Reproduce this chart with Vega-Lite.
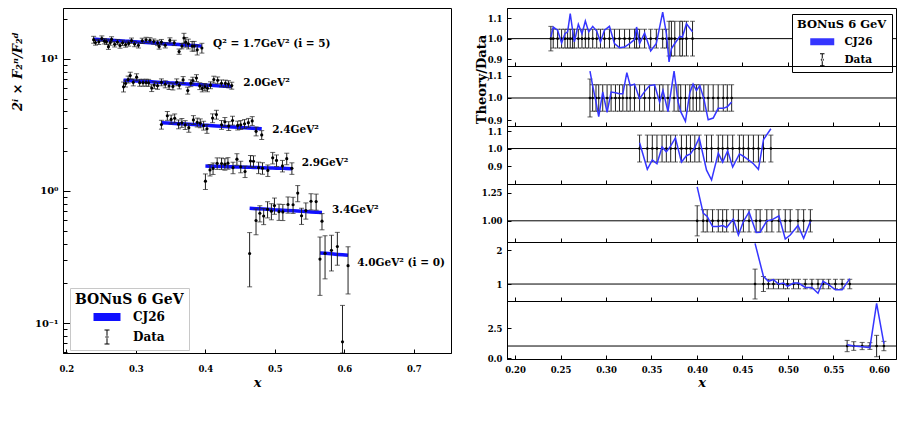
{
  "$schema": "https://vega.github.io/schema/vega-lite/v6.json",
  "padding": {"left": 10, "top": 7, "right": 5, "bottom": 5},
  "bounds": "flush",
  "spacing": 56,
  "config": {
    "font": "DejaVu Serif",
    "view": {"stroke": "#000", "strokeWidth": 1},
    "axis": {
      "labelFont": "DejaVu Serif", "labelFontWeight": "bold", "labelFontSize": 8.5, "labelColor": "#000",
      "labelOverlap": false,
      "tickColor": "#000", "domainColor": "#000", "grid": false,
      "titleFont": "DejaVu Serif", "titleFontWeight": "bold", "titleColor": "#000", "titleFontSize": 13
    },
    "legend": {
      "titleFont": "DejaVu Serif", "labelFont": "DejaVu Serif", "titleFontWeight": "bold",
      "labelFontWeight": "bold", "titleColor": "#000", "labelColor": "#000"
    }
  },
  "datasets": {
    "g": [
      {"q":"1.7","x":0.2394,"f2":13.99,"err":0.84,"cj26":14.11},
      {"q":"1.7","x":0.2420,"f2":13.32,"err":0.61,"cj26":14.08},
      {"q":"1.7","x":0.2468,"f2":13.48,"err":0.62,"cj26":14.03},
      {"q":"1.7","x":0.2512,"f2":14.28,"err":0.66,"cj26":13.98},
      {"q":"1.7","x":0.2549,"f2":13.62,"err":0.63,"cj26":13.95},
      {"q":"1.7","x":0.2578,"f2":13.47,"err":0.62,"cj26":13.92},
      {"q":"1.7","x":0.2607,"f2":12.38,"err":0.57,"cj26":13.89},
      {"q":"1.7","x":0.2633,"f2":13.31,"err":0.61,"cj26":13.86},
      {"q":"1.7","x":0.2652,"f2":14.07,"err":0.65,"cj26":13.84},
      {"q":"1.7","x":0.2696,"f2":12.90,"err":0.59,"cj26":13.80},
      {"q":"1.7","x":0.2736,"f2":13.43,"err":0.62,"cj26":13.75},
      {"q":"1.7","x":0.2773,"f2":12.63,"err":0.58,"cj26":13.72},
      {"q":"1.7","x":0.2810,"f2":13.24,"err":0.61,"cj26":13.68},
      {"q":"1.7","x":0.2854,"f2":12.86,"err":0.59,"cj26":13.63},
      {"q":"1.7","x":0.2898,"f2":13.10,"err":0.60,"cj26":13.59},
      {"q":"1.7","x":0.2939,"f2":13.76,"err":0.63,"cj26":13.54},
      {"q":"1.7","x":0.2983,"f2":12.97,"err":0.60,"cj26":13.50},
      {"q":"1.7","x":0.3038,"f2":12.68,"err":0.58,"cj26":13.44},
      {"q":"1.7","x":0.3093,"f2":13.72,"err":0.63,"cj26":13.39},
      {"q":"1.7","x":0.3148,"f2":13.94,"err":0.64,"cj26":13.33},
      {"q":"1.7","x":0.3204,"f2":13.84,"err":0.64,"cj26":13.27},
      {"q":"1.7","x":0.3259,"f2":13.54,"err":0.62,"cj26":13.22},
      {"q":"1.7","x":0.3314,"f2":13.23,"err":0.61,"cj26":13.16},
      {"q":"1.7","x":0.3336,"f2":12.43,"err":0.57,"cj26":13.14},
      {"q":"1.7","x":0.3369,"f2":13.42,"err":0.62,"cj26":13.10},
      {"q":"1.7","x":0.3424,"f2":12.69,"err":0.58,"cj26":13.05},
      {"q":"1.7","x":0.3491,"f2":13.81,"err":0.64,"cj26":12.98},
      {"q":"1.7","x":0.3553,"f2":13.23,"err":0.61,"cj26":12.91},
      {"q":"1.7","x":0.3623,"f2":11.36,"err":0.52,"cj26":12.84},
      {"q":"1.7","x":0.3664,"f2":12.50,"err":0.58,"cj26":12.80},
      {"q":"1.7","x":0.3693,"f2":14.41,"err":1.22,"cj26":12.77},
      {"q":"1.7","x":0.3719,"f2":13.40,"err":1.14,"cj26":12.74},
      {"q":"1.7","x":0.3756,"f2":13.01,"err":1.11,"cj26":12.70},
      {"q":"1.7","x":0.3811,"f2":12.50,"err":1.06,"cj26":12.64},
      {"q":"1.7","x":0.3840,"f2":12.51,"err":1.06,"cj26":12.61},
      {"q":"1.7","x":0.3884,"f2":11.71,"err":1.00,"cj26":12.57},
      {"q":"1.7","x":0.3951,"f2":12.10,"err":1.03,"cj26":12.50},
      {"q":"2.0","x":0.2824,"f2":6.15,"err":0.53,"cj26":6.90},
      {"q":"2.0","x":0.2853,"f2":6.52,"err":0.39,"cj26":6.89},
      {"q":"2.0","x":0.2890,"f2":6.99,"err":0.42,"cj26":6.87},
      {"q":"2.0","x":0.2920,"f2":7.48,"err":0.45,"cj26":6.86},
      {"q":"2.0","x":0.2964,"f2":6.65,"err":0.40,"cj26":6.83},
      {"q":"2.0","x":0.3012,"f2":7.28,"err":0.44,"cj26":6.81},
      {"q":"2.0","x":0.3056,"f2":6.61,"err":0.40,"cj26":6.79},
      {"q":"2.0","x":0.3104,"f2":6.61,"err":0.40,"cj26":6.77},
      {"q":"2.0","x":0.3148,"f2":6.62,"err":0.40,"cj26":6.75},
      {"q":"2.0","x":0.3185,"f2":6.60,"err":0.40,"cj26":6.73},
      {"q":"2.0","x":0.3229,"f2":6.02,"err":0.36,"cj26":6.71},
      {"q":"2.0","x":0.3266,"f2":6.34,"err":0.38,"cj26":6.69},
      {"q":"2.0","x":0.3313,"f2":6.27,"err":0.38,"cj26":6.67},
      {"q":"2.0","x":0.3369,"f2":6.66,"err":0.40,"cj26":6.64},
      {"q":"2.0","x":0.3424,"f2":6.43,"err":0.39,"cj26":6.62},
      {"q":"2.0","x":0.3479,"f2":6.24,"err":0.37,"cj26":6.59},
      {"q":"2.0","x":0.3534,"f2":6.19,"err":0.37,"cj26":6.57},
      {"q":"2.0","x":0.3589,"f2":6.66,"err":0.40,"cj26":6.54},
      {"q":"2.0","x":0.3626,"f2":6.31,"err":0.38,"cj26":6.52},
      {"q":"2.0","x":0.3681,"f2":6.93,"err":0.42,"cj26":6.50},
      {"q":"2.0","x":0.3748,"f2":5.76,"err":0.35,"cj26":6.47},
      {"q":"2.0","x":0.3792,"f2":6.56,"err":0.39,"cj26":6.44},
      {"q":"2.0","x":0.3821,"f2":6.86,"err":0.41,"cj26":6.43},
      {"q":"2.0","x":0.3873,"f2":7.17,"err":0.43,"cj26":6.41},
      {"q":"2.0","x":0.3921,"f2":6.23,"err":0.37,"cj26":6.38},
      {"q":"2.0","x":0.3957,"f2":5.99,"err":0.36,"cj26":6.37},
      {"q":"2.0","x":0.3994,"f2":6.14,"err":0.37,"cj26":6.35},
      {"q":"2.0","x":0.4031,"f2":6.00,"err":0.36,"cj26":6.33},
      {"q":"2.0","x":0.4075,"f2":6.33,"err":0.38,"cj26":6.31},
      {"q":"2.0","x":0.4123,"f2":6.98,"err":0.42,"cj26":6.29},
      {"q":"2.0","x":0.4178,"f2":6.89,"err":0.41,"cj26":6.26},
      {"q":"2.0","x":0.4233,"f2":6.54,"err":0.39,"cj26":6.24},
      {"q":"2.0","x":0.4289,"f2":6.52,"err":0.39,"cj26":6.21},
      {"q":"2.0","x":0.4333,"f2":6.45,"err":0.39,"cj26":6.19},
      {"q":"2.0","x":0.4381,"f2":6.28,"err":0.38,"cj26":6.17},
      {"q":"2.4","x":0.3369,"f2":3.185,"err":0.245,"cj26":3.290},
      {"q":"2.4","x":0.3454,"f2":3.713,"err":0.286,"cj26":3.271},
      {"q":"2.4","x":0.3509,"f2":3.485,"err":0.268,"cj26":3.258},
      {"q":"2.4","x":0.3560,"f2":3.556,"err":0.274,"cj26":3.246},
      {"q":"2.4","x":0.3616,"f2":3.204,"err":0.247,"cj26":3.233},
      {"q":"2.4","x":0.3663,"f2":3.285,"err":0.253,"cj26":3.223},
      {"q":"2.4","x":0.3711,"f2":3.164,"err":0.244,"cj26":3.212},
      {"q":"2.4","x":0.3763,"f2":3.016,"err":0.232,"cj26":3.200},
      {"q":"2.4","x":0.3829,"f2":3.454,"err":0.266,"cj26":3.185},
      {"q":"2.4","x":0.3884,"f2":3.308,"err":0.255,"cj26":3.172},
      {"q":"2.4","x":0.3928,"f2":3.263,"err":0.251,"cj26":3.162},
      {"q":"2.4","x":0.3976,"f2":3.132,"err":0.241,"cj26":3.151},
      {"q":"2.4","x":0.4024,"f2":2.960,"err":0.228,"cj26":3.140},
      {"q":"2.4","x":0.4105,"f2":3.563,"err":0.274,"cj26":3.121},
      {"q":"2.4","x":0.4160,"f2":3.791,"err":0.292,"cj26":3.109},
      {"q":"2.4","x":0.4234,"f2":3.174,"err":0.244,"cj26":3.092},
      {"q":"2.4","x":0.4282,"f2":3.342,"err":0.257,"cj26":3.081},
      {"q":"2.4","x":0.4337,"f2":3.109,"err":0.239,"cj26":3.068},
      {"q":"2.4","x":0.4392,"f2":3.418,"err":0.263,"cj26":3.056},
      {"q":"2.4","x":0.4466,"f2":3.136,"err":0.241,"cj26":3.039},
      {"q":"2.4","x":0.4510,"f2":3.168,"err":0.244,"cj26":3.029},
      {"q":"2.4","x":0.4565,"f2":3.226,"err":0.248,"cj26":3.016},
      {"q":"2.4","x":0.4620,"f2":3.290,"err":0.253,"cj26":3.004},
      {"q":"2.4","x":0.4675,"f2":3.395,"err":0.261,"cj26":2.991},
      {"q":"2.4","x":0.4731,"f2":2.831,"err":0.218,"cj26":2.978},
      {"q":"2.4","x":0.4812,"f2":2.659,"err":0.205,"cj26":2.960},
      {"q":"2.9","x":0.4002,"f2":1.186,"err":0.160,"cj26":1.546},
      {"q":"2.9","x":0.4068,"f2":1.443,"err":0.144,"cj26":1.542},
      {"q":"2.9","x":0.4112,"f2":1.482,"err":0.148,"cj26":1.540},
      {"q":"2.9","x":0.4171,"f2":1.619,"err":0.162,"cj26":1.536},
      {"q":"2.9","x":0.4234,"f2":1.615,"err":0.162,"cj26":1.533},
      {"q":"2.9","x":0.4282,"f2":1.597,"err":0.160,"cj26":1.530},
      {"q":"2.9","x":0.4326,"f2":1.625,"err":0.163,"cj26":1.528},
      {"q":"2.9","x":0.4399,"f2":1.501,"err":0.150,"cj26":1.524},
      {"q":"2.9","x":0.4455,"f2":1.741,"err":0.174,"cj26":1.520},
      {"q":"2.9","x":0.4510,"f2":1.526,"err":0.153,"cj26":1.517},
      {"q":"2.9","x":0.4572,"f2":1.404,"err":0.140,"cj26":1.514},
      {"q":"2.9","x":0.4650,"f2":1.687,"err":0.169,"cj26":1.510},
      {"q":"2.9","x":0.4694,"f2":1.678,"err":0.168,"cj26":1.507},
      {"q":"2.9","x":0.4767,"f2":1.503,"err":0.150,"cj26":1.503},
      {"q":"2.9","x":0.4823,"f2":1.487,"err":0.149,"cj26":1.500},
      {"q":"2.9","x":0.4900,"f2":1.431,"err":0.143,"cj26":1.495},
      {"q":"2.9","x":0.4970,"f2":1.781,"err":0.178,"cj26":1.491},
      {"q":"2.9","x":0.5025,"f2":1.704,"err":0.170,"cj26":1.488},
      {"q":"2.9","x":0.5110,"f2":1.549,"err":0.155,"cj26":1.484},
      {"q":"2.9","x":0.5172,"f2":1.756,"err":0.176,"cj26":1.480},
      {"q":"2.9","x":0.5246,"f2":1.485,"err":0.149,"cj26":1.476},
      {"q":"3.4","x":0.4638,"f2":0.336,"err":0.148,"cj26":0.740},
      {"q":"3.4","x":0.4730,"f2":0.598,"err":0.132,"cj26":0.735},
      {"q":"3.4","x":0.4785,"f2":0.678,"err":0.095,"cj26":0.732},
      {"q":"3.4","x":0.4840,"f2":0.646,"err":0.090,"cj26":0.730},
      {"q":"3.4","x":0.4896,"f2":0.727,"err":0.102,"cj26":0.727},
      {"q":"3.4","x":0.4951,"f2":0.703,"err":0.098,"cj26":0.724},
      {"q":"3.4","x":0.4995,"f2":0.775,"err":0.109,"cj26":0.721},
      {"q":"3.4","x":0.5061,"f2":0.697,"err":0.098,"cj26":0.718},
      {"q":"3.4","x":0.5116,"f2":0.694,"err":0.097,"cj26":0.715},
      {"q":"3.4","x":0.5190,"f2":0.790,"err":0.111,"cj26":0.711},
      {"q":"3.4","x":0.5263,"f2":0.786,"err":0.110,"cj26":0.708},
      {"q":"3.4","x":0.5330,"f2":0.964,"err":0.135,"cj26":0.704},
      {"q":"3.4","x":0.5385,"f2":0.649,"err":0.091,"cj26":0.701},
      {"q":"3.4","x":0.5447,"f2":0.712,"err":0.100,"cj26":0.698},
      {"q":"3.4","x":0.5521,"f2":0.836,"err":0.117,"cj26":0.694},
      {"q":"3.4","x":0.5595,"f2":0.831,"err":0.116,"cj26":0.690},
      {"q":"3.4","x":0.5679,"f2":0.591,"err":0.083,"cj26":0.686},
      {"q":"4.0","x":0.5650,"f2":0.305,"err":0.143,"cj26":0.339},
      {"q":"4.0","x":0.5723,"f2":0.337,"err":0.121,"cj26":0.337},
      {"q":"4.0","x":0.5815,"f2":0.355,"err":0.107,"cj26":0.334},
      {"q":"4.0","x":0.5900,"f2":0.380,"err":0.106,"cj26":0.331},
      {"q":"4.0","x":0.5974,"f2":0.072,"err":0.064,"cj26":0.329},
      {"q":"4.0","x":0.6054,"f2":0.272,"err":0.106,"cj26":0.326}
    ],
    "r": [
      {"q":"1.7","x":0.2394,"ratio":1.008,"lo":0.94,"hi":1.06},
      {"q":"1.7","x":0.2420,"ratio":1.057,"lo":0.954,"hi":1.046},
      {"q":"1.7","x":0.2468,"ratio":1.041,"lo":0.954,"hi":1.046},
      {"q":"1.7","x":0.2512,"ratio":0.979,"lo":0.954,"hi":1.046},
      {"q":"1.7","x":0.2549,"ratio":1.024,"lo":0.954,"hi":1.046},
      {"q":"1.7","x":0.2578,"ratio":1.033,"lo":0.954,"hi":1.046},
      {"q":"1.7","x":0.2607,"ratio":1.122,"lo":0.954,"hi":1.046},
      {"q":"1.7","x":0.2633,"ratio":1.041,"lo":0.954,"hi":1.046},
      {"q":"1.7","x":0.2652,"ratio":0.984,"lo":0.954,"hi":1.046},
      {"q":"1.7","x":0.2696,"ratio":1.070,"lo":0.954,"hi":1.046},
      {"q":"1.7","x":0.2736,"ratio":1.024,"lo":0.954,"hi":1.046},
      {"q":"1.7","x":0.2773,"ratio":1.086,"lo":0.954,"hi":1.046},
      {"q":"1.7","x":0.2810,"ratio":1.033,"lo":0.954,"hi":1.046},
      {"q":"1.7","x":0.2854,"ratio":1.060,"lo":0.954,"hi":1.046},
      {"q":"1.7","x":0.2898,"ratio":1.037,"lo":0.954,"hi":1.046},
      {"q":"1.7","x":0.2939,"ratio":0.984,"lo":0.954,"hi":1.046},
      {"q":"1.7","x":0.2983,"ratio":1.041,"lo":0.954,"hi":1.046},
      {"q":"1.7","x":0.3038,"ratio":1.060,"lo":0.954,"hi":1.046},
      {"q":"1.7","x":0.3093,"ratio":0.976,"lo":0.954,"hi":1.046},
      {"q":"1.7","x":0.3148,"ratio":0.956,"lo":0.954,"hi":1.046},
      {"q":"1.7","x":0.3204,"ratio":0.959,"lo":0.954,"hi":1.046},
      {"q":"1.7","x":0.3259,"ratio":0.976,"lo":0.954,"hi":1.046},
      {"q":"1.7","x":0.3314,"ratio":0.995,"lo":0.954,"hi":1.046},
      {"q":"1.7","x":0.3336,"ratio":1.057,"lo":0.954,"hi":1.046},
      {"q":"1.7","x":0.3369,"ratio":0.976,"lo":0.954,"hi":1.046},
      {"q":"1.7","x":0.3424,"ratio":1.028,"lo":0.954,"hi":1.046},
      {"q":"1.7","x":0.3491,"ratio":0.940,"lo":0.954,"hi":1.046},
      {"q":"1.7","x":0.3553,"ratio":0.976,"lo":0.954,"hi":1.046},
      {"q":"1.7","x":0.3623,"ratio":1.130,"lo":0.954,"hi":1.046},
      {"q":"1.7","x":0.3664,"ratio":1.024,"lo":0.954,"hi":1.046},
      {"q":"1.7","x":0.3693,"ratio":0.886,"lo":0.915,"hi":1.085},
      {"q":"1.7","x":0.3719,"ratio":0.951,"lo":0.915,"hi":1.085},
      {"q":"1.7","x":0.3756,"ratio":0.976,"lo":0.915,"hi":1.085},
      {"q":"1.7","x":0.3811,"ratio":1.011,"lo":0.915,"hi":1.085},
      {"q":"1.7","x":0.3840,"ratio":1.008,"lo":0.915,"hi":1.085},
      {"q":"1.7","x":0.3884,"ratio":1.073,"lo":0.915,"hi":1.085},
      {"q":"1.7","x":0.3951,"ratio":1.033,"lo":0.915,"hi":1.085},
      {"q":"2.0","x":0.2824,"ratio":1.122,"lo":0.914,"hi":1.086},
      {"q":"2.0","x":0.2853,"ratio":1.056,"lo":0.94,"hi":1.06},
      {"q":"2.0","x":0.2890,"ratio":0.982,"lo":0.94,"hi":1.06},
      {"q":"2.0","x":0.2920,"ratio":0.916,"lo":0.94,"hi":1.06},
      {"q":"2.0","x":0.2964,"ratio":1.027,"lo":0.94,"hi":1.06},
      {"q":"2.0","x":0.3012,"ratio":0.935,"lo":0.94,"hi":1.06},
      {"q":"2.0","x":0.3056,"ratio":1.027,"lo":0.94,"hi":1.06},
      {"q":"2.0","x":0.3104,"ratio":1.024,"lo":0.94,"hi":1.06},
      {"q":"2.0","x":0.3148,"ratio":1.019,"lo":0.94,"hi":1.06},
      {"q":"2.0","x":0.3185,"ratio":1.019,"lo":0.94,"hi":1.06},
      {"q":"2.0","x":0.3229,"ratio":1.115,"lo":0.94,"hi":1.06},
      {"q":"2.0","x":0.3266,"ratio":1.056,"lo":0.94,"hi":1.06},
      {"q":"2.0","x":0.3313,"ratio":1.063,"lo":0.94,"hi":1.06},
      {"q":"2.0","x":0.3369,"ratio":0.997,"lo":0.94,"hi":1.06},
      {"q":"2.0","x":0.3424,"ratio":1.029,"lo":0.94,"hi":1.06},
      {"q":"2.0","x":0.3479,"ratio":1.056,"lo":0.94,"hi":1.06},
      {"q":"2.0","x":0.3534,"ratio":1.060,"lo":0.94,"hi":1.06},
      {"q":"2.0","x":0.3589,"ratio":0.982,"lo":0.94,"hi":1.06},
      {"q":"2.0","x":0.3626,"ratio":1.034,"lo":0.94,"hi":1.06},
      {"q":"2.0","x":0.3681,"ratio":0.938,"lo":0.94,"hi":1.06},
      {"q":"2.0","x":0.3748,"ratio":1.122,"lo":0.94,"hi":1.06},
      {"q":"2.0","x":0.3792,"ratio":0.982,"lo":0.94,"hi":1.06},
      {"q":"2.0","x":0.3821,"ratio":0.938,"lo":0.94,"hi":1.06},
      {"q":"2.0","x":0.3873,"ratio":0.894,"lo":0.94,"hi":1.06},
      {"q":"2.0","x":0.3921,"ratio":1.024,"lo":0.94,"hi":1.06},
      {"q":"2.0","x":0.3957,"ratio":1.063,"lo":0.94,"hi":1.06},
      {"q":"2.0","x":0.3994,"ratio":1.034,"lo":0.94,"hi":1.06},
      {"q":"2.0","x":0.4031,"ratio":1.056,"lo":0.94,"hi":1.06},
      {"q":"2.0","x":0.4075,"ratio":0.997,"lo":0.94,"hi":1.06},
      {"q":"2.0","x":0.4123,"ratio":0.901,"lo":0.94,"hi":1.06},
      {"q":"2.0","x":0.4178,"ratio":0.909,"lo":0.94,"hi":1.06},
      {"q":"2.0","x":0.4233,"ratio":0.953,"lo":0.94,"hi":1.06},
      {"q":"2.0","x":0.4289,"ratio":0.953,"lo":0.94,"hi":1.06},
      {"q":"2.0","x":0.4333,"ratio":0.960,"lo":0.94,"hi":1.06},
      {"q":"2.0","x":0.4381,"ratio":0.982,"lo":0.94,"hi":1.06},
      {"q":"2.4","x":0.3369,"ratio":1.033,"lo":0.923,"hi":1.077},
      {"q":"2.4","x":0.3454,"ratio":0.881,"lo":0.923,"hi":1.077},
      {"q":"2.4","x":0.3509,"ratio":0.935,"lo":0.923,"hi":1.077},
      {"q":"2.4","x":0.3560,"ratio":0.913,"lo":0.923,"hi":1.077},
      {"q":"2.4","x":0.3616,"ratio":1.009,"lo":0.923,"hi":1.077},
      {"q":"2.4","x":0.3663,"ratio":0.981,"lo":0.923,"hi":1.077},
      {"q":"2.4","x":0.3711,"ratio":1.015,"lo":0.923,"hi":1.077},
      {"q":"2.4","x":0.3763,"ratio":1.061,"lo":0.923,"hi":1.077},
      {"q":"2.4","x":0.3829,"ratio":0.922,"lo":0.923,"hi":1.077},
      {"q":"2.4","x":0.3884,"ratio":0.959,"lo":0.923,"hi":1.077},
      {"q":"2.4","x":0.3928,"ratio":0.969,"lo":0.923,"hi":1.077},
      {"q":"2.4","x":0.3976,"ratio":1.006,"lo":0.923,"hi":1.077},
      {"q":"2.4","x":0.4024,"ratio":1.061,"lo":0.923,"hi":1.077},
      {"q":"2.4","x":0.4105,"ratio":0.876,"lo":0.923,"hi":1.077},
      {"q":"2.4","x":0.4160,"ratio":0.820,"lo":0.923,"hi":1.077},
      {"q":"2.4","x":0.4234,"ratio":0.974,"lo":0.923,"hi":1.077},
      {"q":"2.4","x":0.4282,"ratio":0.922,"lo":0.923,"hi":1.077},
      {"q":"2.4","x":0.4337,"ratio":0.987,"lo":0.923,"hi":1.077},
      {"q":"2.4","x":0.4392,"ratio":0.894,"lo":0.923,"hi":1.077},
      {"q":"2.4","x":0.4466,"ratio":0.969,"lo":0.923,"hi":1.077},
      {"q":"2.4","x":0.4510,"ratio":0.956,"lo":0.923,"hi":1.077},
      {"q":"2.4","x":0.4565,"ratio":0.935,"lo":0.923,"hi":1.077},
      {"q":"2.4","x":0.4620,"ratio":0.913,"lo":0.923,"hi":1.077},
      {"q":"2.4","x":0.4675,"ratio":0.881,"lo":0.923,"hi":1.077},
      {"q":"2.4","x":0.4731,"ratio":1.052,"lo":0.923,"hi":1.077},
      {"q":"2.4","x":0.4812,"ratio":1.113,"lo":0.923,"hi":1.077},
      {"q":"2.9","x":0.4002,"ratio":1.304,"lo":0.865,"hi":1.135},
      {"q":"2.9","x":0.4068,"ratio":1.069,"lo":0.90,"hi":1.10},
      {"q":"2.9","x":0.4112,"ratio":1.039,"lo":0.90,"hi":1.10},
      {"q":"2.9","x":0.4171,"ratio":0.949,"lo":0.90,"hi":1.10},
      {"q":"2.9","x":0.4234,"ratio":0.949,"lo":0.90,"hi":1.10},
      {"q":"2.9","x":0.4282,"ratio":0.958,"lo":0.90,"hi":1.10},
      {"q":"2.9","x":0.4326,"ratio":0.940,"lo":0.90,"hi":1.10},
      {"q":"2.9","x":0.4399,"ratio":1.015,"lo":0.90,"hi":1.10},
      {"q":"2.9","x":0.4455,"ratio":0.873,"lo":0.90,"hi":1.10},
      {"q":"2.9","x":0.4510,"ratio":0.994,"lo":0.90,"hi":1.10},
      {"q":"2.9","x":0.4572,"ratio":1.078,"lo":0.90,"hi":1.10},
      {"q":"2.9","x":0.4650,"ratio":0.895,"lo":0.90,"hi":1.10},
      {"q":"2.9","x":0.4694,"ratio":0.898,"lo":0.90,"hi":1.10},
      {"q":"2.9","x":0.4767,"ratio":1.000,"lo":0.90,"hi":1.10},
      {"q":"2.9","x":0.4823,"ratio":1.009,"lo":0.90,"hi":1.10},
      {"q":"2.9","x":0.4900,"ratio":1.045,"lo":0.90,"hi":1.10},
      {"q":"2.9","x":0.4970,"ratio":0.837,"lo":0.90,"hi":1.10},
      {"q":"2.9","x":0.5025,"ratio":0.873,"lo":0.90,"hi":1.10},
      {"q":"2.9","x":0.5110,"ratio":0.958,"lo":0.90,"hi":1.10},
      {"q":"2.9","x":0.5172,"ratio":0.843,"lo":0.90,"hi":1.10},
      {"q":"2.9","x":0.5246,"ratio":0.994,"lo":0.90,"hi":1.10},
      {"q":"3.4","x":0.4638,"ratio":2.20,"lo":0.56,"hi":1.44},
      {"q":"3.4","x":0.4730,"ratio":1.23,"lo":0.78,"hi":1.22},
      {"q":"3.4","x":0.4785,"ratio":1.08,"lo":0.86,"hi":1.14},
      {"q":"3.4","x":0.4840,"ratio":1.13,"lo":0.86,"hi":1.14},
      {"q":"3.4","x":0.4896,"ratio":1.00,"lo":0.86,"hi":1.14},
      {"q":"3.4","x":0.4951,"ratio":1.03,"lo":0.86,"hi":1.14},
      {"q":"3.4","x":0.4995,"ratio":0.93,"lo":0.86,"hi":1.14},
      {"q":"3.4","x":0.5061,"ratio":1.03,"lo":0.86,"hi":1.14},
      {"q":"3.4","x":0.5116,"ratio":1.03,"lo":0.86,"hi":1.14},
      {"q":"3.4","x":0.5190,"ratio":0.90,"lo":0.86,"hi":1.14},
      {"q":"3.4","x":0.5263,"ratio":0.90,"lo":0.86,"hi":1.14},
      {"q":"3.4","x":0.5330,"ratio":0.73,"lo":0.86,"hi":1.14},
      {"q":"3.4","x":0.5385,"ratio":1.08,"lo":0.86,"hi":1.14},
      {"q":"3.4","x":0.5447,"ratio":0.98,"lo":0.86,"hi":1.14},
      {"q":"3.4","x":0.5521,"ratio":0.83,"lo":0.86,"hi":1.14},
      {"q":"3.4","x":0.5595,"ratio":0.83,"lo":0.86,"hi":1.14},
      {"q":"3.4","x":0.5679,"ratio":1.16,"lo":0.86,"hi":1.14},
      {"q":"4.0","x":0.5650,"ratio":1.11,"lo":0.53,"hi":1.47},
      {"q":"4.0","x":0.5723,"ratio":1.00,"lo":0.64,"hi":1.36},
      {"q":"4.0","x":0.5815,"ratio":0.94,"lo":0.70,"hi":1.30},
      {"q":"4.0","x":0.5900,"ratio":0.87,"lo":0.72,"hi":1.28},
      {"q":"4.0","x":0.5974,"ratio":4.56,"lo":0.11,"hi":1.89},
      {"q":"4.0","x":0.6054,"ratio":1.20,"lo":0.61,"hi":1.39}
    ],
    "labels": [
      {"x":0.4111,"y":12.9,"label":"Q² = 1.7GeV² (i = 5)"},
      {"x":0.4547,"y":6.6,"label":"2.0GeV²"},
      {"x":0.4964,"y":2.89,"label":"2.4GeV²"},
      {"x":0.5387,"y":1.62,"label":"2.9GeV²"},
      {"x":0.5823,"y":0.718,"label":"3.4GeV²"},
      {"x":0.6187,"y":0.286,"label":"4.0GeV² (i = 0)"}
    ],
    "unity": [{"ratio": 1}],
    "keys": [{"series": "CJ26"}, {"series": "Data"}]
  },
  "resolve": {"scale": {"color": "independent", "shape": "independent"}, "legend": {"color": "independent", "shape": "independent"}},
  "hconcat": [
    {
      "width": 388,
      "height": 345,
      "layer": [
        {
          "data": {"name": "g"},
          "mark": {"type": "line", "strokeWidth": 3.5, "color": "#1010ff", "clip": true},
          "encoding": {
            "x": {"field": "x", "type": "quantitative", "title": "x",
              "scale": {"domain": [0.1953, 0.7535], "nice": false, "zero": false},
              "axis": {"values": [0.2, 0.3, 0.4, 0.5, 0.6, 0.7], "tickCount": 20, "format": ".1f", "tickSize": -4, "labelPadding": 15,
                "titleFontStyle": "italic", "titlePadding": 4}},
            "y": {"field": "cj26", "type": "quantitative", "title": "2ⁱ × F₂ⁿ/F₂ᵈ",
              "scale": {"type": "log", "domain": [0.0593, 24.3], "nice": false, "clamp": true},
              "axis": {
                "values": [0.06, 0.07, 0.08, 0.09, 0.1, 0.2, 0.3, 0.4, 0.5, 0.6, 0.7, 0.8, 0.9, 1, 2, 3, 4, 5, 6, 7, 8, 9, 10, 20],
                "tickCount": 40,
                "labelExpr": "datum.value == 0.1 ? '10⁻¹' : datum.value == 1 ? '10⁰' : datum.value == 10 ? '10¹' : ''",
                "tickSize": {"condition": {"test": "datum.value == 0.1 || datum.value == 1 || datum.value == 10", "value": -7}, "value": -4},
                "labelPadding": 12, "labelFontSize": 10,
                "titleFontStyle": "italic", "titleX": -46, "titleY": 63, "titleAlign": "center", "titleBaseline": "middle"}},
            "detail": {"field": "q"}
          }
        },
        {
          "data": {"name": "g"},
          "mark": {"type": "errorbar", "clip": true, "ticks": {"size": 5, "color": "#222222"}, "rule": {"color": "#222222"}},
          "encoding": {
            "x": {"field": "x", "type": "quantitative", "title": "x"},
            "y": {"field": "f2", "type": "quantitative", "title": "2ⁱ × F₂ⁿ/F₂ᵈ"},
            "yError": {"field": "err"}
          }
        },
        {
          "data": {"name": "g"},
          "mark": {"type": "point", "filled": true, "size": 10, "opacity": 1, "color": "#000000", "clip": true},
          "encoding": {
            "x": {"field": "x", "type": "quantitative", "title": "x"},
            "y": {"field": "f2", "type": "quantitative", "title": "2ⁱ × F₂ⁿ/F₂ᵈ"}
          }
        },
        {
          "data": {"name": "labels"},
          "mark": {"type": "text", "align": "left", "baseline": "middle", "font": "DejaVu Serif", "fontSize": 10.5, "fontWeight": "bold", "color": "#000000"},
          "encoding": {
            "x": {"field": "x", "type": "quantitative", "title": "x"},
            "y": {"field": "y", "type": "quantitative", "title": "2ⁱ × F₂ⁿ/F₂ᵈ"},
            "text": {"field": "label"}
          }
        },
        {
          "data": {"name": "keys"},
          "mark": {"type": "point", "filled": true, "opacity": 0, "strokeWidth": 0},
          "encoding": {
            "color": {"field": "series", "type": "nominal",
              "scale": {"domain": ["CJ26", "Data"], "range": ["#1010ff", "#000000"]},
              "legend": {
                "orient": "none", "legendX": 7, "legendY": 280, "direction": "vertical",
                "title": "BONuS 6 GeV", "titleFontSize": 14, "titlePadding": 4,
                "labelFontSize": 12, "labelOffset": 20, "symbolOffset": 26, "symbolSize": 100,
                "symbolOpacity": 1, "symbolStrokeWidth": 0,
                "rowPadding": 6, "padding": 5, "strokeColor": "#c8c8c8", "fillColor": "#ffffff"}},
            "shape": {"field": "series", "type": "nominal",
              "scale": {"domain": ["CJ26", "Data"], "range": [
                "M-2.7,-0.8H2.7V0.8H-2.7Z",
                "M-0.1,-1.4H0.1V1.4H-0.1ZM-0.5,-1.5H0.5V-1.3H-0.5ZM-0.5,1.3H0.5V1.5H-0.5ZM-0.3,0A0.3,0.3 0 1,0 0.3,0A0.3,0.3 0 1,0 -0.3,0Z"]},
              "legend": {
                "orient": "none", "legendX": 7, "legendY": 280, "direction": "vertical",
                "title": "BONuS 6 GeV", "titleFontSize": 14, "titlePadding": 4,
                "labelFontSize": 12, "labelOffset": 20, "symbolOffset": 26, "symbolSize": 100,
                "symbolOpacity": 1, "symbolStrokeWidth": 0,
                "rowPadding": 6, "padding": 5, "strokeColor": "#c8c8c8", "fillColor": "#ffffff"}}
          }
        }
      ]
    },
    {
      "vconcat": [
        {
          "width": 389, "height": 58,
          "layer": [
            {
              "data": {"name": "unity"},
              "mark": {"type": "rule", "color": "#000000", "strokeWidth": 1},
              "encoding": {
                "y": {"field": "ratio", "type": "quantitative", "title": "Theory/Data",
                  "scale": {"domain": [0.866, 1.15], "nice": false, "zero": false},
                  "axis": {"values": [0.9, 1.0, 1.1], "tickCount": 10, "format": ".1f", "tickSize": -4, "labelPadding": 9,
                    "titleX": -26, "titleY": 71, "titleAlign": "center", "titleBaseline": "middle"}}
              }
            },
            {
              "data": {"name": "r"},
              "transform": [{"filter": "datum.q == '1.7'"}],
              "layer": [
                {
                  "mark": {"type": "errorbar", "ticks": {"size": 5, "color": "#222222"}, "rule": {"color": "#222222"}},
                  "encoding": {
                    "x": {"field": "x", "type": "quantitative", "title": null,
                      "scale": {"domain": [0.1912, 0.6187], "nice": false, "zero": false},
                      "axis": {"values": [0.2, 0.25, 0.3, 0.35, 0.4, 0.45, 0.5, 0.55, 0.6], "tickCount": 20, "labels": false, "tickSize": -4}},
                    "y": {"field": "lo", "type": "quantitative", "title": "Theory/Data"},
                    "y2": {"field": "hi"}
                  }
                },
                {
                  "mark": {"type": "point", "filled": true, "size": 7, "opacity": 1, "color": "#000000"},
                  "encoding": {
                    "x": {"field": "x", "type": "quantitative", "title": null},
                    "y": {"datum": 1, "type": "quantitative", "title": "Theory/Data"}
                  }
                },
                {
                  "mark": {"type": "line", "strokeWidth": 1.5, "color": "#3535ff", "clip": true},
                  "encoding": {
                    "x": {"field": "x", "type": "quantitative", "title": null},
                    "y": {"field": "ratio", "type": "quantitative", "title": "Theory/Data"}
                  }
                }
              ]
            },
            {
              "data": {"name": "keys"},
              "mark": {"type": "point", "filled": true, "opacity": 0, "strokeWidth": 0},
              "encoding": {
                "color": {"field": "series", "type": "nominal",
                  "scale": {"domain": ["CJ26", "Data"], "range": ["#3535ff", "#000000"]},
                  "legend": {
                    "orient": "none", "legendX": 285, "legendY": 6, "direction": "vertical",
                    "title": "BONuS 6 GeV", "titleFontSize": 11.5, "titlePadding": 6,
                    "labelFontSize": 10.5, "labelOffset": 17, "symbolOffset": 20, "symbolSize": 100,
                    "symbolOpacity": 1, "symbolStrokeWidth": 0,
                    "rowPadding": 5, "padding": 5, "strokeColor": "#000000", "fillColor": "#ffffff"}},
                "shape": {"field": "series", "type": "nominal",
                  "scale": {"domain": ["CJ26", "Data"], "range": [
                    "M-2.4,-0.7H2.4V0.7H-2.4Z",
                    "M-0.1,-1.2H0.1V1.2H-0.1ZM-0.45,-1.3H0.45V-1.1H-0.45ZM-0.45,1.1H0.45V1.3H-0.45ZM-0.3,0A0.3,0.3 0 1,0 0.3,0A0.3,0.3 0 1,0 -0.3,0Z"]},
                  "legend": {
                    "orient": "none", "legendX": 285, "legendY": 6, "direction": "vertical",
                    "title": "BONuS 6 GeV", "titleFontSize": 11.5, "titlePadding": 6,
                    "labelFontSize": 10.5, "labelOffset": 17, "symbolOffset": 20, "symbolSize": 100,
                    "symbolOpacity": 1, "symbolStrokeWidth": 0,
                    "rowPadding": 5, "padding": 5, "strokeColor": "#000000", "fillColor": "#ffffff"}}
              }
            }
          ]
        },
        {
          "width": 389, "height": 60,
          "layer": [
            {
              "data": {"name": "unity"},
              "mark": {"type": "rule", "color": "#000000", "strokeWidth": 1},
              "encoding": {
                "y": {"field": "ratio", "type": "quantitative", "title": null,
                  "scale": {"domain": [0.873, 1.145], "nice": false, "zero": false},
                  "axis": {"values": [0.9, 1.0, 1.1], "tickCount": 10, "format": ".1f", "tickSize": -4, "labelPadding": 9}}
              }
            },
            {
              "data": {"name": "r"},
              "transform": [{"filter": "datum.q == '2.0'"}],
              "layer": [
                {
                  "mark": {"type": "errorbar", "ticks": {"size": 5, "color": "#222222"}, "rule": {"color": "#222222"}},
                  "encoding": {
                    "x": {"field": "x", "type": "quantitative", "title": null,
                      "scale": {"domain": [0.1912, 0.6187], "nice": false, "zero": false},
                      "axis": {"values": [0.2, 0.25, 0.3, 0.35, 0.4, 0.45, 0.5, 0.55, 0.6], "tickCount": 20, "labels": false, "tickSize": -4}},
                    "y": {"field": "lo", "type": "quantitative", "title": null},
                    "y2": {"field": "hi"}
                  }
                },
                {
                  "mark": {"type": "point", "filled": true, "size": 7, "opacity": 1, "color": "#000000"},
                  "encoding": {
                    "x": {"field": "x", "type": "quantitative", "title": null},
                    "y": {"datum": 1, "type": "quantitative", "title": null}
                  }
                },
                {
                  "mark": {"type": "line", "strokeWidth": 1.5, "color": "#3535ff", "clip": true},
                  "encoding": {
                    "x": {"field": "x", "type": "quantitative", "title": null},
                    "y": {"field": "ratio", "type": "quantitative", "title": null}
                  }
                }
              ]
            }
          ]
        },
        {
          "width": 389, "height": 58,
          "layer": [
            {
              "data": {"name": "unity"},
              "mark": {"type": "rule", "color": "#000000", "strokeWidth": 1},
              "encoding": {
                "y": {"field": "ratio", "type": "quantitative", "title": null,
                  "scale": {"domain": [0.797, 1.129], "nice": false, "zero": false},
                  "axis": {"values": [0.9, 1.0, 1.1], "tickCount": 10, "format": ".1f", "tickSize": -4, "labelPadding": 9}}
              }
            },
            {
              "data": {"name": "r"},
              "transform": [{"filter": "datum.q == '2.4'"}],
              "layer": [
                {
                  "mark": {"type": "errorbar", "ticks": {"size": 5, "color": "#222222"}, "rule": {"color": "#222222"}},
                  "encoding": {
                    "x": {"field": "x", "type": "quantitative", "title": null,
                      "scale": {"domain": [0.1912, 0.6187], "nice": false, "zero": false},
                      "axis": {"values": [0.2, 0.25, 0.3, 0.35, 0.4, 0.45, 0.5, 0.55, 0.6], "tickCount": 20, "labels": false, "tickSize": -4}},
                    "y": {"field": "lo", "type": "quantitative", "title": null},
                    "y2": {"field": "hi"}
                  }
                },
                {
                  "mark": {"type": "point", "filled": true, "size": 7, "opacity": 1, "color": "#000000"},
                  "encoding": {
                    "x": {"field": "x", "type": "quantitative", "title": null},
                    "y": {"datum": 1, "type": "quantitative", "title": null}
                  }
                },
                {
                  "mark": {"type": "line", "strokeWidth": 1.5, "color": "#3535ff", "clip": true},
                  "encoding": {
                    "x": {"field": "x", "type": "quantitative", "title": null},
                    "y": {"field": "ratio", "type": "quantitative", "title": null}
                  }
                }
              ]
            }
          ]
        },
        {
          "width": 389, "height": 58,
          "layer": [
            {
              "data": {"name": "unity"},
              "mark": {"type": "rule", "color": "#000000", "strokeWidth": 1},
              "encoding": {
                "y": {"field": "ratio", "type": "quantitative", "title": null,
                  "scale": {"domain": [0.81, 1.33], "nice": false, "zero": false},
                  "axis": {"values": [1.0, 1.25], "tickCount": 10, "format": ".2f", "tickSize": -4, "labelPadding": 9}}
              }
            },
            {
              "data": {"name": "r"},
              "transform": [{"filter": "datum.q == '2.9'"}],
              "layer": [
                {
                  "mark": {"type": "errorbar", "ticks": {"size": 5, "color": "#222222"}, "rule": {"color": "#222222"}},
                  "encoding": {
                    "x": {"field": "x", "type": "quantitative", "title": null,
                      "scale": {"domain": [0.1912, 0.6187], "nice": false, "zero": false},
                      "axis": {"values": [0.2, 0.25, 0.3, 0.35, 0.4, 0.45, 0.5, 0.55, 0.6], "tickCount": 20, "labels": false, "tickSize": -4}},
                    "y": {"field": "lo", "type": "quantitative", "title": null},
                    "y2": {"field": "hi"}
                  }
                },
                {
                  "mark": {"type": "point", "filled": true, "size": 7, "opacity": 1, "color": "#000000"},
                  "encoding": {
                    "x": {"field": "x", "type": "quantitative", "title": null},
                    "y": {"datum": 1, "type": "quantitative", "title": null}
                  }
                },
                {
                  "mark": {"type": "line", "strokeWidth": 1.5, "color": "#3535ff", "clip": true},
                  "encoding": {
                    "x": {"field": "x", "type": "quantitative", "title": null},
                    "y": {"field": "ratio", "type": "quantitative", "title": null}
                  }
                }
              ]
            }
          ]
        },
        {
          "width": 389, "height": 59,
          "layer": [
            {
              "data": {"name": "unity"},
              "mark": {"type": "rule", "color": "#000000", "strokeWidth": 1},
              "encoding": {
                "y": {"field": "ratio", "type": "quantitative", "title": null,
                  "scale": {"domain": [0.5, 2.24], "nice": false, "zero": false},
                  "axis": {"values": [1, 2], "tickCount": 10, "format": "d", "tickSize": -4, "labelPadding": 9}}
              }
            },
            {
              "data": {"name": "r"},
              "transform": [{"filter": "datum.q == '3.4'"}],
              "layer": [
                {
                  "mark": {"type": "errorbar", "ticks": {"size": 5, "color": "#222222"}, "rule": {"color": "#222222"}},
                  "encoding": {
                    "x": {"field": "x", "type": "quantitative", "title": null,
                      "scale": {"domain": [0.1912, 0.6187], "nice": false, "zero": false},
                      "axis": {"values": [0.2, 0.25, 0.3, 0.35, 0.4, 0.45, 0.5, 0.55, 0.6], "tickCount": 20, "labels": false, "tickSize": -4}},
                    "y": {"field": "lo", "type": "quantitative", "title": null},
                    "y2": {"field": "hi"}
                  }
                },
                {
                  "mark": {"type": "point", "filled": true, "size": 7, "opacity": 1, "color": "#000000"},
                  "encoding": {
                    "x": {"field": "x", "type": "quantitative", "title": null},
                    "y": {"datum": 1, "type": "quantitative", "title": null}
                  }
                },
                {
                  "mark": {"type": "line", "strokeWidth": 1.5, "color": "#3535ff", "clip": true},
                  "encoding": {
                    "x": {"field": "x", "type": "quantitative", "title": null},
                    "y": {"field": "ratio", "type": "quantitative", "title": null}
                  }
                }
              ]
            }
          ]
        },
        {
          "width": 389, "height": 58,
          "layer": [
            {
              "data": {"name": "unity"},
              "mark": {"type": "rule", "color": "#000000", "strokeWidth": 1},
              "encoding": {
                "y": {"field": "ratio", "type": "quantitative", "title": null,
                  "scale": {"domain": [-0.08, 4.75], "nice": false, "zero": false},
                  "axis": {"values": [0, 2.5], "tickCount": 10, "format": ".1f", "tickSize": -4, "labelPadding": 9}}
              }
            },
            {
              "data": {"name": "r"},
              "transform": [{"filter": "datum.q == '4.0'"}],
              "layer": [
                {
                  "mark": {"type": "errorbar", "ticks": {"size": 5, "color": "#222222"}, "rule": {"color": "#222222"}},
                  "encoding": {
                    "x": {"field": "x", "type": "quantitative", "title": "x",
                      "scale": {"domain": [0.1912, 0.6187], "nice": false, "zero": false},
                      "axis": {"values": [0.2, 0.25, 0.3, 0.35, 0.4, 0.45, 0.5, 0.55, 0.6], "tickCount": 20, "format": ".2f", "tickSize": -4, "labelPadding": 10,
                        "titleFontStyle": "italic", "titlePadding": 3}},
                    "y": {"field": "lo", "type": "quantitative", "title": null},
                    "y2": {"field": "hi"}
                  }
                },
                {
                  "mark": {"type": "point", "filled": true, "size": 7, "opacity": 1, "color": "#000000"},
                  "encoding": {
                    "x": {"field": "x", "type": "quantitative", "title": "x"},
                    "y": {"datum": 1, "type": "quantitative", "title": null}
                  }
                },
                {
                  "mark": {"type": "line", "strokeWidth": 1.5, "color": "#3535ff", "clip": true},
                  "encoding": {
                    "x": {"field": "x", "type": "quantitative", "title": "x"},
                    "y": {"field": "ratio", "type": "quantitative", "title": null}
                  }
                }
              ]
            }
          ]
        }
      ],
      "spacing": 0,
      "bounds": "flush",
      "resolve": {"scale": {"color": "independent", "shape": "independent"}, "legend": {"color": "independent", "shape": "independent"}}
    }
  ]
}
